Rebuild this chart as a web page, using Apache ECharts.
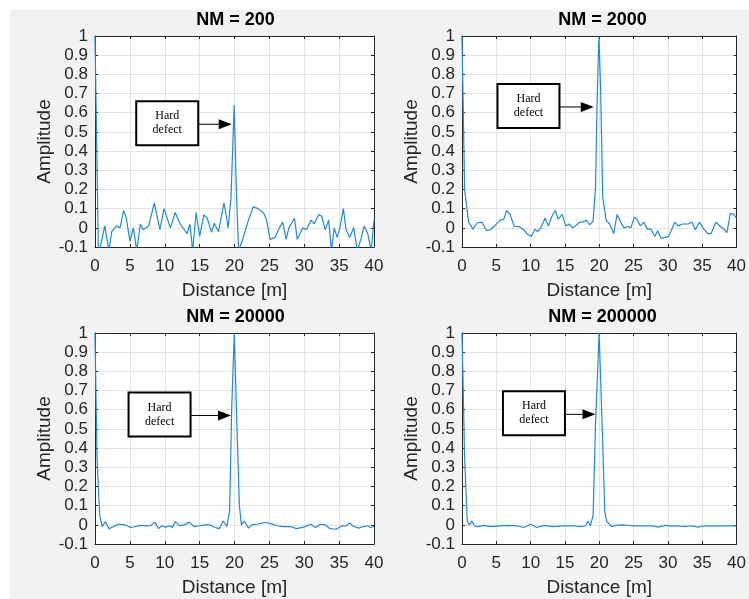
<!DOCTYPE html>
<html><head><meta charset="utf-8">
<script src="https://cdn.jsdelivr.net/npm/echarts@6/dist/echarts.min.js"></script>
<style>
html,body{margin:0;padding:0;background:#fff;width:749px;height:599px;overflow:hidden}
#c{position:absolute;left:10px;top:10px;width:739px;height:589px}
</style>
</head><body><div id="c"></div>
<script>
// ---- data ----
const titles = ['NM = 200', 'NM = 2000', 'NM = 20000', 'NM = 200000'];
const xTicks = [0, 5, 10, 15, 20, 25, 30, 35, 40];
const yTicks = [-0.1, 0, 0.1, 0.2, 0.3, 0.4, 0.5, 0.6, 0.7, 0.8, 0.9, 1];

const dist200 = [0, 0.5, 1.4, 2.0, 2.4, 3.1, 3.6, 4.1, 4.5, 5.0, 5.5, 6.0, 6.5, 6.9, 7.7, 8.5, 9.3, 9.9, 10.8, 11.5, 12.2, 13.2, 13.6, 14.0, 14.5, 15.0, 15.6, 16.1, 16.7, 17.1, 17.7, 18.5, 19.1, 19.5, 19.95, 20.3, 20.6, 21.3, 22.0, 22.7, 23.4, 24.2, 24.6, 25.1, 25.8, 26.3, 26.9, 27.4, 27.8, 28.6, 29.0, 29.8, 30.3, 31.0, 31.4, 32.1, 32.5, 33.0, 33.5, 33.9, 34.3, 34.7, 35.1, 35.6, 36.0, 36.5, 37.1, 37.6, 38.2, 38.6, 39.1, 39.6, 40];
const amp200 = [1.0, -0.15, 0.01, -0.12, -0.02, 0.01, 0.0, 0.09, 0.05, -0.07, 0.0, -0.12, 0.02, -0.01, 0.01, 0.13, -0.01, 0.10, 0.0, 0.08, 0.02, -0.03, 0.02, -0.12, 0.08, -0.045, 0.067, 0.05, -0.024, 0.024, -0.02, 0.13, 0.0, 0.16, 0.64, 0.16, -0.12, -0.045, 0.04, 0.11, 0.10, 0.076, 0.04, -0.06, -0.05, -0.01, 0.03, -0.06, 0.0, 0.05, -0.06, 0.0, -0.01, 0.04, 0.02, 0.07, 0.06, -0.01, 0.04, -0.12, 0.0, -0.05, 0.0, 0.1, -0.01, -0.05, 0.0, -0.12, -0.05, 0.01, -0.03, -0.12, 0.04];

const dist2000 = [0, 0.38, 0.96, 1.58, 2.2, 2.87, 3.6, 4.2, 4.9, 5.56, 6.1, 6.5, 7.0, 7.6, 8.3, 9.0, 9.6, 10.1, 10.6, 11.0, 11.5, 12.1, 12.6, 13.1, 13.6, 14.0, 14.6, 15.1, 15.6, 16.1, 16.7, 17.2, 17.6, 18.1, 18.6, 19.1, 19.45, 19.7, 19.95, 20.2, 20.5, 21.0, 21.5, 22.1, 22.6, 23.1, 23.6, 24.2, 24.6, 25.1, 25.5, 26.0, 26.5, 27.0, 27.5, 28.1, 28.5, 29.0, 29.6, 30.1, 30.6, 31.0, 31.5, 32.1, 33.0, 33.5, 34.0, 34.6, 35.2, 35.8, 36.3, 37.0, 37.65, 38.2, 38.6, 39.1, 39.6, 40];
const amp2000 = [1.0, 0.2, 0.03, -0.007, 0.025, 0.03, -0.015, -0.01, 0.015, 0.04, 0.045, 0.09, 0.07, 0.007, 0.007, -0.01, -0.035, -0.045, -0.007, -0.02, 0.0, 0.05, 0.01, 0.06, 0.09, 0.045, 0.07, 0.01, 0.02, 0.0, 0.015, 0.03, 0.03, 0.04, 0.015, 0.035, 0.21, 0.68, 1.0, 0.72, 0.16, 0.04, 0.02, -0.03, 0.07, 0.03, 0.0, 0.007, 0.0, 0.055, 0.045, 0.01, 0.03, -0.007, -0.007, -0.045, -0.015, -0.055, -0.05, -0.045, -0.005, 0.03, 0.01, 0.02, 0.02, 0.03, -0.01, 0.03, -0.005, -0.03, -0.03, 0.03, 0.007, -0.007, -0.025, 0.075, 0.07, 0.05];

const dist20000 = [0, 0.29, 0.67, 1.05, 1.5, 2.0, 2.6, 3.3, 4.3, 5.1, 5.7, 6.5, 7.4, 8.0, 8.6, 9.1, 9.6, 10.2, 10.7, 11.1, 11.5, 12.1, 12.8, 13.5, 14.2, 14.95, 15.8, 16.5, 17.2, 17.8, 18.4, 18.9, 19.3, 19.6, 19.97, 20.3, 20.7, 21.0, 21.4, 22.0, 22.5, 23.2, 23.9, 24.6, 25.3, 26.1, 27.0, 28.0, 28.9, 29.9, 30.9, 31.6, 32.3, 33.0, 33.7, 34.6, 35.4, 36.0, 36.5, 37.1, 37.8, 38.5, 39.1, 39.5, 40];
const amp20000 = [1.0, 0.35, 0.05, -0.01, 0.017, -0.02, -0.01, 0.003, 0.0, -0.014, -0.01, -0.003, -0.005, -0.004, 0.014, -0.02, -0.005, -0.012, -0.005, -0.014, 0.017, -0.004, 0.0, 0.014, -0.009, -0.005, 0.0, 0.0, -0.014, -0.02, 0.02, -0.009, 0.07, 0.61, 1.0, 0.57, 0.1, 0.0, 0.02, -0.017, 0.0, 0.003, 0.009, 0.012, 0.005, -0.005, -0.009, -0.009, -0.02, -0.012, 0.003, -0.014, 0.003, 0.0, -0.02, -0.023, -0.005, -0.005, 0.009, -0.009, -0.017, -0.009, -0.005, -0.014, -0.009];

const dist200000 = [0, 0.38, 0.77, 1.1, 1.44, 1.8, 2.3, 3.26, 4.2, 5.65, 6.6, 8.0, 9.0, 9.96, 10.9, 11.9, 13.3, 14.75, 16.2, 17.4, 18.0, 18.35, 18.7, 19.1, 19.45, 19.98, 20.4, 20.8, 21.1, 21.5, 21.8, 22.4, 23.4, 24.8, 26.25, 27.7, 28.6, 29.6, 30.6, 31.5, 32.5, 33.4, 34.4, 35.35, 36.3, 37.3, 38.2, 40];
const amp200000 = [1.0, 0.35, 0.017, 0.0, 0.02, -0.005, -0.009, -0.003, -0.009, -0.005, -0.003, -0.005, -0.014, 0.003, -0.014, -0.003, -0.009, -0.005, -0.005, -0.009, -0.005, 0.02, -0.005, 0.05, 0.52, 1.0, 0.54, 0.07, 0.017, 0.003, -0.009, -0.003, 0.0, -0.005, -0.005, -0.005, -0.012, -0.003, -0.007, -0.005, -0.009, -0.005, -0.012, -0.005, -0.007, -0.005, -0.005, -0.005];

// annotation anchors (data coordinates): arrow tip and box right edge
const annTipX = [19.6, 19.2, 19.5, 19.45];
const annTipY = [0.54, 0.63, 0.57, 0.576];
const annBoxRightX = [14.8, 14.2, 13.7, 15.0];
const annText = ['Hard', 'defect'];

// ---- chart ----
const dists = [dist200, dist2000, dist20000, dist200000];
const amps = [amp200, amp2000, amp20000, amp200000];

const FONT = '"Liberation Sans", Arial, Helvetica, sans-serif';
const SERIF = '"Liberation Serif", "Times New Roman", serif';
const AX = '#262626';
const GRIDC = '#e4e4e4';
const LINEC = '#2389cf';
const gridPos = [[85, 26], [452, 26], [85, 323], [452, 323]];
const GW = 279, GH = 211;

const chart = echarts.init(document.getElementById('c'), null, {renderer: 'canvas'});

const grids = [], xAxes = [], yAxes = [], series = [], titleArr = [];
const fmtY = v => String(Math.round(v * 10) / 10);

gridPos.forEach((p, i) => {
  grids.push({left: p[0], top: p[1], width: GW, height: GH, show: true,
    backgroundColor: '#ffffff', borderWidth: 0, containLabel: false});
  const xBase = {type: 'value', gridIndex: i, min: xTicks[0], max: xTicks[xTicks.length - 1],
    interval: xTicks[1] - xTicks[0]};
  const yBase = {type: 'value', gridIndex: i, min: yTicks[0], max: yTicks[yTicks.length - 1],
    interval: 0.1};
  xAxes.push(Object.assign({}, xBase, {
    position: 'bottom',
    axisLine: {show: true, onZero: false, lineStyle: {color: AX, width: 1}},
    axisTick: {show: true, inside: true, length: 3, lineStyle: {color: AX}},
    axisLabel: {show: true, color: AX, fontSize: 17, fontFamily: FONT, margin: 11},
    splitLine: {show: true, lineStyle: {color: GRIDC, width: 1}},
    name: 'Distance [m]', nameLocation: 'middle', nameGap: 34,
    nameTextStyle: {color: AX, fontSize: 19, fontFamily: FONT}
  }));
  xAxes.push(Object.assign({}, xBase, {
    position: 'top',
    axisLine: {show: true, onZero: false, lineStyle: {color: AX, width: 1}},
    axisTick: {show: true, inside: true, length: 3, lineStyle: {color: AX}},
    axisLabel: {show: false}, splitLine: {show: false}
  }));
  yAxes.push(Object.assign({}, yBase, {
    position: 'left',
    axisLine: {show: true, onZero: false, lineStyle: {color: AX, width: 1}},
    axisTick: {show: true, inside: true, length: 3, lineStyle: {color: AX}},
    axisLabel: {show: true, color: AX, fontSize: 17, fontFamily: FONT, margin: 7, formatter: fmtY},
    splitLine: {show: true, lineStyle: {color: GRIDC, width: 1}},
    name: 'Amplitude', nameLocation: 'middle', nameGap: 41, nameRotate: 90,
    nameTextStyle: {color: AX, fontSize: 19, fontFamily: FONT}
  }));
  yAxes.push(Object.assign({}, yBase, {
    position: 'right',
    axisLine: {show: true, onZero: false, lineStyle: {color: AX, width: 1}},
    axisTick: {show: true, inside: true, length: 3, lineStyle: {color: AX}},
    axisLabel: {show: false}, splitLine: {show: false}
  }));
  series.push({
    type: 'line', xAxisIndex: 2 * i, yAxisIndex: 2 * i,
    data: dists[i].map((d, k) => [d, amps[i][k]]),
    showSymbol: false, symbol: 'none', clip: true, animation: false,
    lineStyle: {color: LINEC, width: 1.2}, itemStyle: {color: LINEC}
  });
  titleArr.push({text: titles[i], left: p[0] + GW / 2 + 1, top: p[1] - 25, textAlign: 'center', padding: 0,
    textStyle: {color: '#000', fontSize: 18, fontWeight: 'bold', fontFamily: FONT}});
});

chart.setOption({
  backgroundColor: '#f2f2f2',
  animation: false,
  title: titleArr,
  grid: grids, xAxis: xAxes, yAxis: yAxes, series: series
});

// annotations anchored through the axes' scales
const graphics = [];
const BW = 62, BH = 44;
for (let i = 0; i < 4; i++) {
  const tip = chart.convertToPixel({xAxisIndex: 2 * i, yAxisIndex: 2 * i}, [annTipX[i], annTipY[i]]);
  const start = chart.convertToPixel({xAxisIndex: 2 * i, yAxisIndex: 2 * i}, [annBoxRightX[i], annTipY[i]]);
  const bx = start[0] - BW, by = tip[1] - BH / 2 - 1;
  graphics.push({type: 'rect', shape: {x: bx, y: by, width: BW, height: BH}, z: 100,
    style: {fill: '#fff', stroke: '#000', lineWidth: 2}});
  graphics.push({type: 'text', x: bx + BW / 2, y: by + BH / 2 - 7, z: 101,
    style: {text: annText[0], fill: '#000', fontSize: 12, fontFamily: SERIF, align: 'center', verticalAlign: 'middle'}});
  graphics.push({type: 'text', x: bx + BW / 2, y: by + BH / 2 + 7, z: 101,
    style: {text: annText[1], fill: '#000', fontSize: 12, fontFamily: SERIF, align: 'center', verticalAlign: 'middle'}});
  graphics.push({type: 'line', shape: {x1: start[0], y1: tip[1], x2: tip[0] - 12, y2: tip[1]}, z: 100,
    style: {stroke: '#000', lineWidth: 1}});
  graphics.push({type: 'polygon', shape: {points: [[tip[0] - 13, tip[1] - 5], [tip[0] - 13, tip[1] + 5], [tip[0], tip[1]]]}, z: 100,
    style: {fill: '#000'}});
}
chart.setOption({graphic: graphics});
</script>
</body></html>
